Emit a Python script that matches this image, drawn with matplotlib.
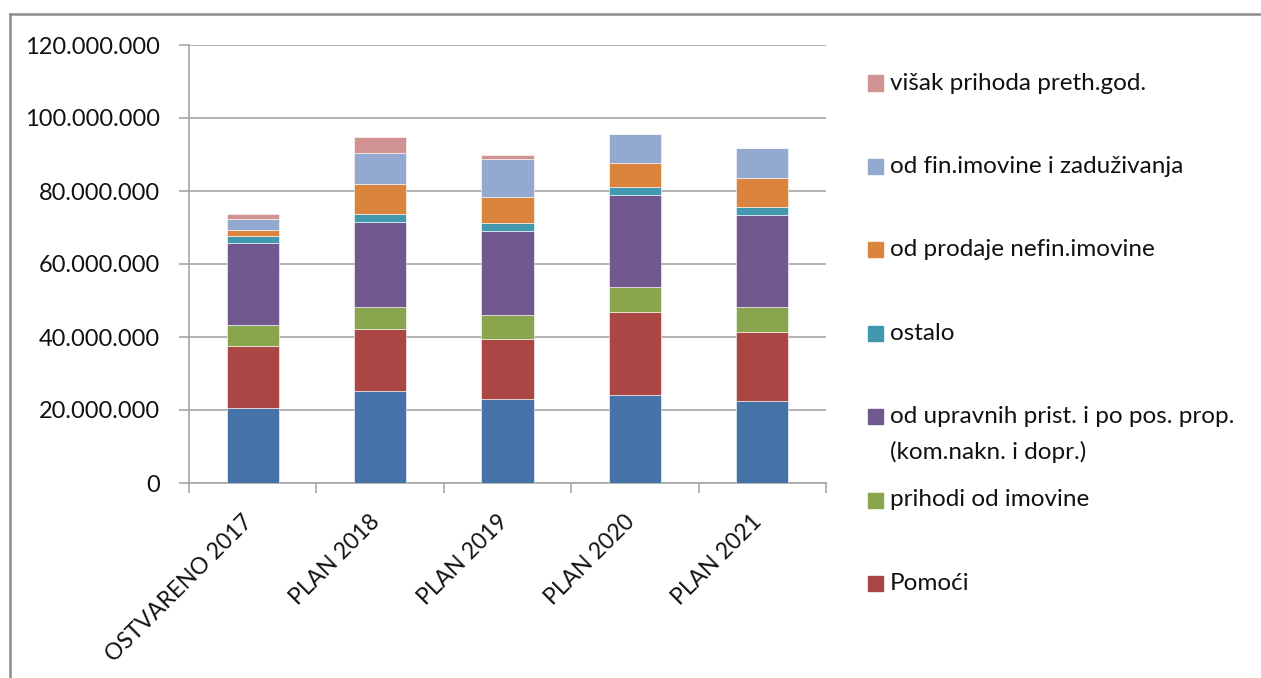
import matplotlib
matplotlib.use("Agg")
import matplotlib.pyplot as plt
import matplotlib.transforms as mtransforms
from matplotlib.lines import Line2D
from matplotlib.patches import Rectangle
from matplotlib.ticker import FuncFormatter, MultipleLocator
import numpy as np

plt.rcParams['font.family'] = ['Lato', 'DejaVu Sans']

categories = ["OSTVARENO 2017", "PLAN 2018", "PLAN 2019", "PLAN 2020", "PLAN 2021"]

# segment sizes in millions, bottom to top
porezni = [20.5, 25.3, 23.1, 24.2, 22.4]
pomoci = [17.1, 16.8, 16.4, 22.6, 19.0]
imovina = [5.6, 6.1, 6.5, 6.9, 6.8]
upravne = [22.5, 23.3, 23.0, 25.1, 25.1]
ostalo = [2.1, 2.2, 2.1, 2.2, 2.2]
nefin = [1.5, 8.1, 7.3, 6.6, 8.1]
fin = [2.9, 8.7, 10.3, 7.9, 8.3]
visak = [1.5, 4.4, 1.2, 0.0, 0.0]

series = [porezni, pomoci, imovina, upravne, ostalo, nefin, fin, visak]
labels = [None, "Pomoći", "prihodi od imovine",
          "od upravnih prist. i po pos. prop.\n(kom.nakn. i dopr.)",
          "ostalo", "od prodaje nefin.imovine",
          "od fin.imovine i zaduživanja", "višak prihoda preth.god."]
colors = ["#4572A7", "#AA4643", "#89A54E", "#71588F",
          "#4198AF", "#DB843D", "#93A9CF", "#D19392"]

W, H = 1261, 678
fig = plt.figure(figsize=(W / 100, H / 100), dpi=100)
ax = fig.add_axes([189 / W, 1 - 483 / H, (826 - 189) / W, (483 - 45) / H])

x = np.arange(len(categories))
bottom = np.zeros(len(categories))
for vals, col in zip(series, colors):
    v = np.array(vals) * 1e6
    ax.bar(x, v, 0.41, bottom=bottom, color=col, edgecolor="#ffffff",
           linewidth=0.4, zorder=3)
    bottom += v

grid_col = "#A6A6A6"
ax.set_xlim(-0.5, len(categories) - 0.5)
ax.set_ylim(0, 120e6)
ax.yaxis.set_major_locator(MultipleLocator(20e6))
ax.yaxis.set_major_formatter(FuncFormatter(lambda v, p: f"{int(v):,}".replace(",", ".")))
ax.grid(True, axis="y", color=grid_col, linewidth=1.2, zorder=0)
for s in ["top", "right"]:
    ax.spines[s].set_visible(False)
for s in ["left", "bottom"]:
    ax.spines[s].set_color(grid_col)
    ax.spines[s].set_linewidth(1.2)

ax.tick_params(axis="y", length=7, width=1.2, color=grid_col, pad=14,
               labelsize=17, labelcolor="#111111")
ax.set_xticks(x)
ax.set_xticks(np.arange(-0.5, len(categories)), minor=True)
ax.tick_params(axis="x", which="major", length=0, pad=20)
ax.tick_params(axis="x", which="minor", length=7, width=1.2, color=grid_col)
ax.set_xticklabels(categories, rotation=45, ha="right", va="top",
                   fontsize=16.5, color="#111111")
shift = mtransforms.ScaledTranslation(4 / 100, 0, fig.dpi_scale_trans)
for lbl in ax.get_xticklabels():
    lbl.set_transform(lbl.get_transform() + shift)

# legend drawn by hand, top to bottom
ly = 83
for lab, col in zip(labels[::-1], colors[::-1]):
    if lab is None:
        continue
    fig.add_artist(Rectangle((868 / W, 1 - (ly + 7.5) / H), 15 / W, 15 / H,
                             transform=fig.transFigure, color=col))
    for i, line in enumerate(lab.split("\n")):
        fig.text(890 / W, 1 - (ly + i * 35) / H, line, fontsize=17.5,
                 color="#111111", va="center", ha="left")
    ly += 83.4

# outer frame of the screenshot
fig.add_artist(Line2D([10 / W, 1], [1 - 14 / H, 1 - 14 / H],
                      transform=fig.transFigure, color="#8C8C8C", linewidth=1.8))
fig.add_artist(Line2D([10 / W, 10 / W], [1 - 14 / H, 0],
                      transform=fig.transFigure, color="#8C8C8C", linewidth=1.8))

fig.savefig("out.png", dpi=100)
